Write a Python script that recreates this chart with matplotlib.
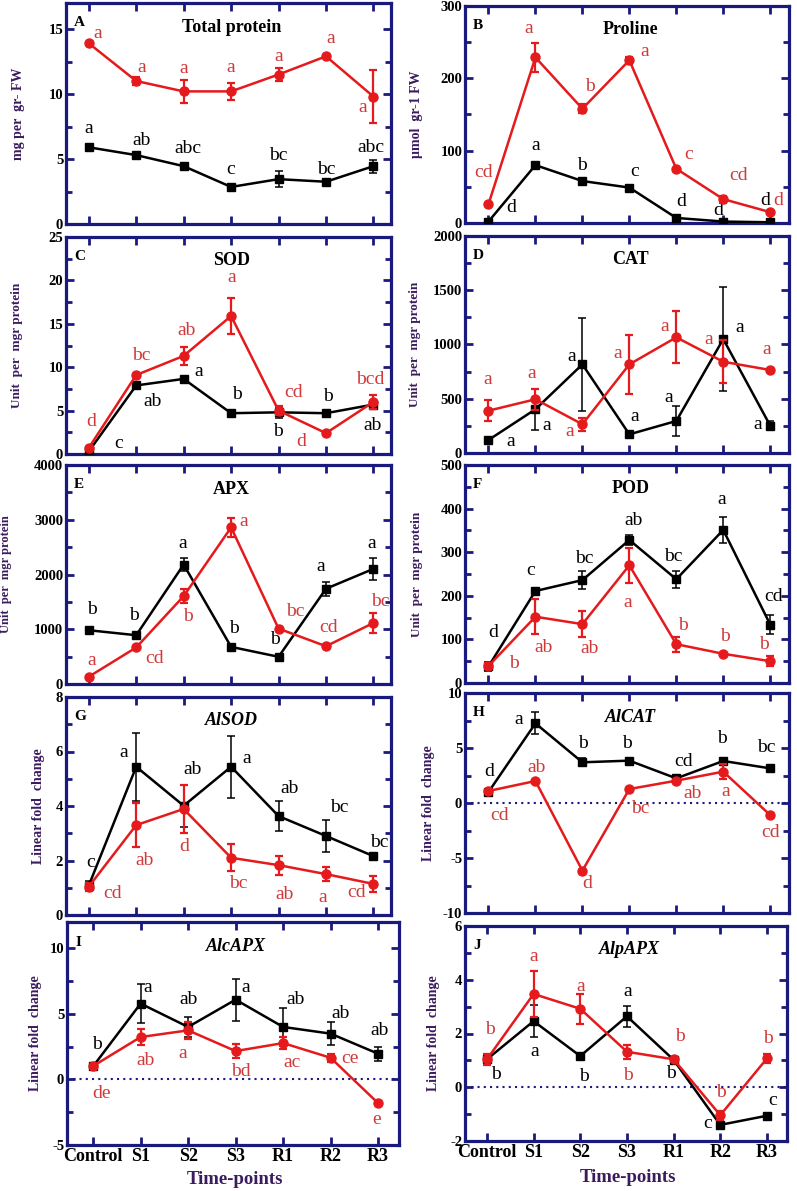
import matplotlib.pyplot as plt
from matplotlib.ticker import MultipleLocator
import numpy as np

plt.rcParams['font.family'] = ['Liberation Serif', 'DejaVu Serif']

time_points = ['Control', 'S1', 'S2', 'S3', 'R1', 'R2', 'R3']

# A  Total protein
prot_r = [13.9, 11.0, 10.2, 10.2, 11.5, 12.9, 9.8]
prot_r_err = [0, 0.3, 0.9, 0.65, 0.5, 0, 2.05]
prot_k = [5.9, 5.3, 4.45, 2.85, 3.45, 3.25, 4.45]
prot_k_err = [0.15, 0.1, 0.1, 0.15, 0.6, 0.15, 0.5]
prot_r_let = ['a', 'a', 'a', 'a', 'a', 'a', 'a']
prot_k_let = ['a', 'ab', 'abc', 'c', 'bc', 'bc', 'abc']

# B  Proline
prol_r = [26, 229, 158, 225, 75, 33, 15]
prol_r_err = [0, 20, 6, 5, 0, 5, 0]
prol_k = [2, 80, 58, 49, 7, 2, 1]
prol_k_err = [0, 0, 0, 0, 0, 0, 0]
prol_r_let = ['cd', 'a', 'b', 'a', 'c', 'cd', 'd']
prol_k_let = ['d', 'a', 'b', 'c', 'd', 'd', 'd']

# C  SOD
sod_r = [0.7, 9.1, 11.3, 15.9, 5.0, 2.4, 6.0]
sod_r_err = [0, 0, 1.0, 2.1, 0.5, 0, 0.8]
sod_k = [0.3, 7.9, 8.65, 4.7, 4.8, 4.7, 5.7]
sod_k_err = [0, 0, 0, 0, 0.6, 0, 0.4]
sod_r_let = ['d', 'bc', 'ab', 'a', 'cd', 'd', 'bcd']
sod_k_let = ['c', 'ab', 'a', 'b', 'b', 'b', 'ab']

# D  CAT
cat_r = [390, 495, 265, 817, 1066, 841, 765]
cat_r_err = [95, 95, 60, 275, 240, 200, 0]
cat_k = [120, 403, 817, 172, 295, 1050, 252]
cat_k_err = [0, 190, 430, 30, 140, 480, 40]
cat_r_let = ['a', 'a', 'a', 'a', 'a', 'a', 'a']
cat_k_let = ['a', 'a', 'a', 'a', 'a', 'a', 'a']

# E  APX
apx_r = [133, 667, 1605, 2860, 1012, 690, 1115]
apx_r_err = [0, 0, 130, 170, 0, 0, 180]
apx_k = [982, 891, 2182, 678, 497, 1740, 2103]
apx_k_err = [0, 0, 120, 0, 0, 130, 200]
apx_r_let = ['a', 'cd', 'b', 'a', 'bc', 'cd', 'bc']
apx_k_let = ['b', 'b', 'a', 'b', 'b', 'a', 'a']

# F  POD
pod_r = [39, 152, 135, 270, 89, 67, 50]
pod_r_err = [8, 40, 30, 40, 17, 0, 12]
pod_k = [38, 211, 236, 328, 238, 351, 134]
pod_k_err = [10, 0, 20, 12, 20, 30, 22]
pod_r_let = ['b', 'ab', 'ab', 'a', 'b', 'b', 'b']
pod_k_let = ['d', 'c', 'bc', 'ab', 'bc', 'a', 'cd']

# G  AlSOD
alsod_r = [1.04, 3.3, 3.89, 2.1, 1.83, 1.5, 1.14]
alsod_r_err = [0.15, 0.8, 0.87, 0.5, 0.35, 0.26, 0.28]
alsod_k = [1.08, 5.44, 4.01, 5.44, 3.63, 2.9, 2.16]
alsod_k_err = [0.15, 1.25, 0.77, 1.13, 0.55, 0.6, 0]
alsod_r_let = ['cd', 'ab', 'd', 'bc', 'ab', 'a', 'cd']
alsod_k_let = ['c', 'a', 'ab', 'a', 'ab', 'bc', 'bc']

# H  AlCAT
alcat_r = [1.09, 2.0, -6.15, 1.27, 2.03, 2.85, -1.1]
alcat_r_err = [0, 0, 0, 0, 0, 0.7, 0]
alcat_k = [1.0, 7.24, 3.7, 3.85, 2.24, 3.82, 3.15]
alcat_k_err = [0, 1.0, 0.35, 0, 0, 0, 0]
alcat_r_let = ['cd', 'ab', 'd', 'bc', 'ab', 'a', 'cd']
alcat_k_let = ['d', 'a', 'b', 'b', 'cd', 'b', 'bc']

# I  AlcAPX
alcapx_r = [1.02, 3.23, 3.74, 2.16, 2.77, 1.65, -1.81]
alcapx_r_err = [0, 0.64, 0.67, 0.53, 0.47, 0.3, 0]
alcapx_k = [1.0, 5.78, 4.0, 6.08, 4.0, 3.49, 1.96]
alcapx_k_err = [0, 1.5, 0.76, 1.6, 1.46, 0.85, 0.53]
alcapx_r_let = ['de', 'ab', 'a', 'bd', 'ac', 'ce', 'e']
alcapx_k_let = ['b', 'a', 'ab', 'a', 'ab', 'ab', 'ab']

# J  AlpAPX
alpapx_r = [1.04, 3.47, 2.92, 1.32, 1.04, -1.04, 1.07]
alpapx_r_err = [0.2, 0.86, 0.55, 0.27, 0, 0.17, 0.15]
alpapx_k = [1.04, 2.46, 1.16, 2.64, 1.02, -1.4, -1.06]
alpapx_k_err = [0, 0.59, 0, 0.4, 0, 0, 0]
alpapx_r_let = ['b', 'a', 'a', 'b', 'b', 'b', 'b']
alpapx_k_let = ['b', 'a', 'b', 'a', 'b', 'c', 'c']

NAVY = '#1a1a7e'
PURPLE = '#3b1b5e'
RED = '#e41a1c'
RED_TXT = '#d03a3a'
W, H = 797, 1191

fig = plt.figure(figsize=(W / 100, H / 100), dpi=100)


def draw_panel(rect, xlim, ylim, ystep, letter, title, ylabel, lab_x,
               red, red_err, blk, blk_err, red_let, blk_let,
               red_off, blk_off, italic=False, zero=False, bottom=False,
               lab_size=10):
    x0, y0, x1, y1 = rect
    ax = fig.add_axes([x0 / W, 1 - y1 / H, (x1 - x0) / W, (y1 - y0) / H])
    x = np.arange(len(time_points))

    if zero:
        ax.axhline(0, color=NAVY, ls=(0, (1, 2)), lw=1.5, zorder=1)

    ax.errorbar(x, blk, yerr=blk_err, color='black', marker='s', ms=6,
                lw=1.8, elinewidth=1.1, capsize=3, capthick=1.1, zorder=3)
    ax.errorbar(x, red, yerr=red_err, color=RED, marker='o', ms=6.5,
                lw=1.8, elinewidth=1.6, capsize=3, capthick=1.6, zorder=4)

    for i in range(len(x)):
        ax.annotate(red_let[i], (x[i], red[i]), xytext=red_off[i],
                    textcoords='offset pixels', ha='center', va='center',
                    fontsize=14, color=RED_TXT)
        ax.annotate(blk_let[i], (x[i], blk[i]), xytext=blk_off[i],
                    textcoords='offset pixels', ha='center', va='center',
                    fontsize=14, color='black')

    ax.set_xlim(xlim)
    ax.set_ylim(ylim)
    yt = np.arange(ylim[0], ylim[1] + 1e-9, ystep)
    ax.set_yticks(yt, [str(int(v)) for v in yt], fontsize=10.5,
                  fontweight='bold')
    ax.yaxis.set_minor_locator(MultipleLocator(ystep / 2))
    if bottom:
        ax.set_xticks(x, time_points, fontsize=13, fontweight='bold')
    else:
        ax.set_xticks(x, [])
    ax.tick_params(which='both', direction='in', top=True, right=True,
                   color=NAVY, width=2, pad=2)
    ax.tick_params(which='major', length=6)
    ax.tick_params(which='minor', length=4)
    for s in ax.spines.values():
        s.set_color(NAVY)
        s.set_linewidth(2.3)

    ax.text(0.025, 0.91, letter, transform=ax.transAxes, ha='left',
            va='center', fontsize=11, fontweight='bold')
    ax.text(0.51, 0.89, title, transform=ax.transAxes, ha='center',
            va='center', fontsize=13, fontweight='bold',
            style='italic' if italic else 'normal')
    ax.set_ylabel(ylabel, color=PURPLE, fontsize=lab_size, fontweight='bold')
    ax.yaxis.set_label_coords(lab_x, 0.5)
    return ax


XL = (-0.48, 6.37)
XR = (-0.5, 6.4)
UNIT = 'Unit  per  mgr protein'
FOLD = 'Linear fold  change'

draw_panel((66, 3, 391, 224), XL, (0, 17), 5, 'A', 'Total protein',
           'mg per  gr- FW', -0.126,
           prot_r, prot_r_err, prot_k, prot_k_err, prot_r_let, prot_k_let,
           [(9, 10), (5, 14), (0, 23), (0, 24), (0, 18), (5, 18), (-11, -11)],
           [(0, 19), (5, 15), (4, 18), (0, 17), (0, 24), (0, 12), (-3, 19)])

draw_panel((465, 6, 789, 223), XR, (0, 300), 100, 'B', 'Proline',
           '\u00b5mol  gr-1 FW', -0.13,
           prol_r, prol_r_err, prol_k, prol_k_err, prol_r_let, prol_k_let,
           [(-5, 32), (-7, 29), (8, 22), (15, 9), (12, 14), (15, 24), (8, 12)],
           [(23, 14), (0, 20), (0, 16), (5, 16), (5, 16), (-5, 11), (-5, 22)])

draw_panel((66, 237, 391, 454), XL, (0, 25), 5, 'C', 'SOD', UNIT, -0.132,
           sod_r, sod_r_err, sod_k, sod_k_err, sod_r_let, sod_k_let,
           [(2, 26), (5, 20), (3, 25), (1, 38), (15, 18), (-25, -8), (-3, 22)],
           [(30, 8), (16, -16), (15, 7), (6, 19), (-1, -19), (2, 17), (-1, -21)],
           lab_size=9.5)

draw_panel((465, 236, 789, 453), XR, (0, 2000), 500, 'D', 'CAT', UNIT, -0.136,
           cat_r, cat_r_err, cat_k, cat_k_err, cat_r_let, cat_k_let,
           [(-1, 31), (-4, 26), (-13, -7), (-12, 11), (-12, 11), (-15, 22), (-4, 20)],
           [(22, -2), (11, -16), (-11, 8), (5, 18), (-8, 23), (16, 12), (-13, 1)],
           lab_size=9.5)

draw_panel((66, 465, 391, 684), XL, (0, 4000), 1000, 'E', 'APX', UNIT, -0.166,
           apx_r, apx_r_err, apx_k, apx_k_err, apx_r_let, apx_k_let,
           [(3, 16), (18, -11), (4, -20), (13, 6), (17, 17), (3, 19), (7, 21)],
           [(3, 21), (-2, 20), (-1, 21), (3, 18), (-4, 17), (-5, 22), (-2, 25)],
           lab_size=9)

draw_panel((465, 465, 789, 683), XR, (0, 500), 100, 'F', 'POD', UNIT, -0.13,
           pod_r, pod_r_err, pod_k, pod_k_err, pod_r_let, pod_k_let,
           [(25, 2), (8, -31), (7, -24), (-2, -37), (7, 19), (2, 17), (-6, 17)],
           [(5, 34), (-5, 21), (2, 22), (4, 19), (-3, 23), (-2, 30), (3, 28)],
           lab_size=9.5)

draw_panel((66, 697, 391, 915), XL, (0, 8), 2, 'G', 'AlSOD', FOLD, -0.065,
           alsod_r, alsod_r_err, alsod_k, alsod_k_err, alsod_r_let, alsod_k_let,
           [(24, -7), (8, -35), (1, -38), (7, -26), (6, -29), (-3, -23), (-17, -9)],
           [(2, 23), (-13, 14), (9, 36), (16, 8), (11, 28), (13, 28), (6, 14)],
           italic=True)

draw_panel((465, 693, 789, 913), XR, (-10, 10), 5, 'H', 'AlCAT', FOLD, -0.093,
           alcat_r, alcat_r_err, alcat_k, alcat_k_err, alcat_r_let, alcat_k_let,
           [(11, -24), (1, 14), (5, -13), (11, -19), (16, -13), (2, -20), (0, -17)],
           [(1, 20), (-17, 4), (1, 19), (-2, 17), (7, 17), (-1, 22), (-4, 21)],
           italic=True, zero=True)

draw_panel((67, 922, 399, 1145), (-0.55, 6.44), (-5, 12), 5, 'I', 'AlcAPX',
           FOLD, -0.075,
           alcapx_r, alcapx_r_err, alcapx_k, alcapx_k_err, alcapx_r_let, alcapx_k_let,
           [(8, -27), (5, -23), (-5, -23), (5, -20), (9, -19), (19, -1), (-2, -16)],
           [(4, 22), (7, 16), (0, 27), (10, 12), (12, 27), (10, 20), (1, 23)],
           italic=True, zero=True, bottom=True)

draw_panel((465, 926, 787, 1141), (-0.47, 6.43), (-2, 6), 2, 'J', 'AlpAPX',
           FOLD, -0.077,
           alpapx_r, alpapx_r_err, alpapx_k, alpapx_k_err, alpapx_r_let, alpapx_k_let,
           [(3, 30), (0, 37), (0, 22), (1, -24), (6, 23), (1, 23), (1, 20)],
           [(9, -15), (1, -30), (4, -20), (1, 25), (-3, -14), (-13, 1), (6, 15)],
           italic=True, zero=True, bottom=True)

fig.text(235 / W, 1 - 1180 / H, 'Time-points', ha='center', va='center',
         fontsize=13.5, fontweight='bold', color=PURPLE)
fig.text(628 / W, 1 - 1177 / H, 'Time-points', ha='center', va='center',
         fontsize=13.5, fontweight='bold', color=PURPLE)

fig.savefig('out.png', dpi=100)
